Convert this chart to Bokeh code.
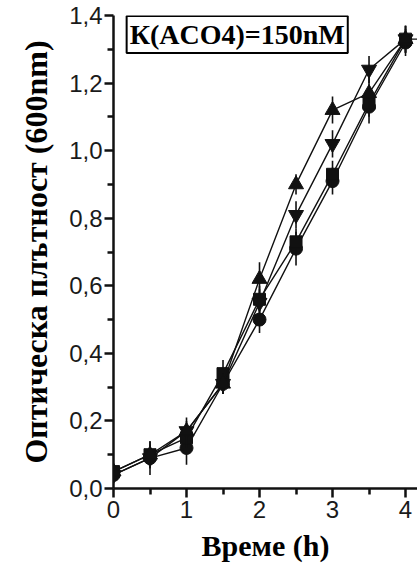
from bokeh.plotting import figure
from bokeh.models import Range1d, FixedTicker, CustomJSTickFormatter, Label
from bokeh.embed import file_html
from bokeh.resources import INLINE

# ---- data ----
time_h = [0, 0.5, 1, 1.5, 2, 2.5, 3, 3.5, 4]

tri_up = [0.05, 0.10, 0.17, 0.31, 0.62, 0.90, 1.12, 1.17, 1.33]
tri_up_err = [0.01, 0.04, 0.04, 0.03, 0.05, 0.03, 0.04, 0.05, 0.04]

tri_down = [0.04, 0.09, 0.17, 0.31, 0.55, 0.81, 1.02, 1.24, 1.33]
tri_down_err = [0.01, 0.03, 0.03, 0.03, 0.04, 0.04, 0.04, 0.04, 0.04]

square_t = [0, 0.5, 1, 1.5, 2, 2.5, 3, 3.5, 4, 4.5]
square = [0.05, 0.10, 0.15, 0.34, 0.56, 0.73, 0.93, 1.14, 1.33, 1.33]
square_err = [0.01, 0.03, 0.03, 0.04, 0.04, 0.04, 0.04, 0.04, 0.04, 0.04]

circle = [0.04, 0.09, 0.12, 0.31, 0.50, 0.71, 0.91, 1.13, 1.32]
circle_err = [0.01, 0.05, 0.05, 0.03, 0.04, 0.05, 0.04, 0.05, 0.04]

y_ticks = [0.0, 0.2, 0.4, 0.6, 0.8, 1.0, 1.2, 1.4]
y_minor = [0.1, 0.3, 0.5, 0.7, 0.9, 1.1, 1.3]
x_ticks = [0, 1, 2, 3, 4]
x_minor = [0.5, 1.5, 2.5, 3.5]

title_text = "К(ACO4)=150nM"
x_label = "Време (h)"
y_label = "Оптическа плътност (600nm)"

# ---- figure ----
p = figure(width=417, height=574, output_backend="svg", toolbar_location=None,
           x_range=Range1d(0, 4.164), y_range=Range1d(0, 1.4),
           min_border_left=113, min_border_right=0, min_border_top=15,
           min_border_bottom=86)
p.outline_line_color = None
p.grid.visible = False
p.background_fill_color = "white"
p.border_fill_color = "white"

black = "#111111"

def series(xs, ys, errs, marker, size):
    p.line(xs, ys, line_color=black, line_width=1.4)
    p.segment(x0=xs, y0=[y - e for y, e in zip(ys, errs)],
              x1=xs, y1=[y + e for y, e in zip(ys, errs)],
              line_color=black, line_width=1.6)
    p.scatter(xs, ys, marker=marker, size=size, fill_color=black, line_color=black)

series(time_h, circle, circle_err, "circle", 13)
series(square_t, square, square_err, "square", 12)
series(time_h, tri_down, tri_down_err, "inverted_triangle", 15)
series(time_h, tri_up, tri_up_err, "triangle", 15)

# axes
for ax in (p.xaxis[0], p.yaxis[0]):
    ax.axis_line_width = 2.5
    ax.axis_line_color = black
    ax.major_tick_line_width = 2.5
    ax.minor_tick_line_width = 2.5
    ax.major_tick_line_color = black
    ax.minor_tick_line_color = black
    ax.major_tick_in = 0
    ax.minor_tick_in = 0
    ax.major_tick_out = 9
    ax.minor_tick_out = 6
    ax.major_label_text_font = "Liberation Sans"
    ax.major_label_text_font_size = "24px"
    ax.major_label_text_color = "#1a1a1a"
    ax.axis_label_text_font = "Liberation Serif"
    ax.axis_label_text_font_style = "bold"
    ax.axis_label_text_color = "black"

p.yaxis[0].ticker = FixedTicker(ticks=y_ticks, minor_ticks=y_minor)
p.xaxis[0].ticker = FixedTicker(ticks=x_ticks, minor_ticks=x_minor)
p.yaxis[0].formatter = CustomJSTickFormatter(code="return tick.toFixed(1).replace('.', ',');")
p.xaxis[0].formatter = CustomJSTickFormatter(code="return tick.toFixed(0);")
p.yaxis[0].major_label_standoff = 2
p.xaxis[0].major_label_standoff = 3

p.xaxis[0].axis_label = x_label
p.xaxis[0].axis_label_text_font_size = "30px"
p.xaxis[0].axis_label_standoff = 8
p.yaxis[0].axis_label = y_label
p.yaxis[0].axis_label_text_font_size = "32px"
p.yaxis[0].axis_label_standoff = 12

title = Label(x=0.18, y=1.344, text=title_text, text_font="Liberation Serif",
              text_font_style="bold", text_font_size="28px", text_color="black",
              text_align="left", text_baseline="middle",
              border_line_color="black", border_line_width=2,
              background_fill_color="white", padding=3)
p.add_layout(title)

open("out.html", "w").write(file_html(p, INLINE))
